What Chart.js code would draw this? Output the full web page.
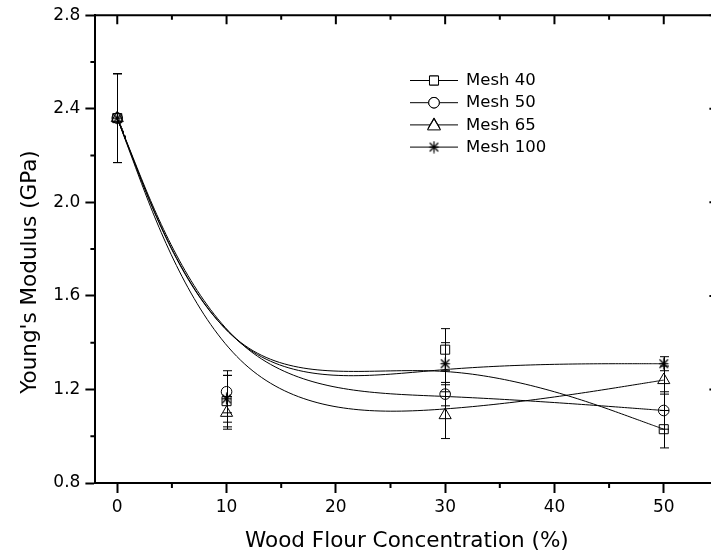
<!DOCTYPE html>
<html>
<head>
<meta charset="utf-8">
<script src="https://cdn.jsdelivr.net/npm/chart.js@4/dist/chart.umd.min.js"></script>
<style>
  body { margin: 0; background: #fff; overflow: hidden; }
  #wrap { width: 711px; height: 556px; overflow: hidden; }
</style>
</head>
<body>
<div id="wrap"><canvas id="miGrafico" width="730" height="556"></canvas></div>
<script>
// DATOS
const concentrations = [0, 10, 30, 50];
const mesh40 = [2.36, 1.15, 1.37, 1.03];
const mesh50 = [2.36, 1.19, 1.18, 1.11];
const mesh65 = [2.36, 1.10, 1.09, 1.24];
const mesh100 = [2.36, 1.16, 1.31, 1.31];
const err40 = [0.19, 0.11, 0.09, 0.08];
const err50 = [0.19, 0.09, 0.05, 0.08];
const err65 = [0.19, 0.07, 0.10, 0.06];
const err100 = [0.19, 0.10, 0.09, 0.03];
const seriesNames = ['Mesh 40', 'Mesh 50', 'Mesh 65', 'Mesh 100'];
const xTicks = [0, 10, 20, 30, 40, 50];
const yTicks = [0.8, 1.2, 1.6, 2.0, 2.4, 2.8];

const FONT = 'DejaVu Sans';

// asterisco de 6 brazos para Mesh 100
function asterisk(size) {
  const c = document.createElement('canvas');
  c.width = size; c.height = size;
  const g = c.getContext('2d');
  const r = size / 2 - 0.5;
  g.strokeStyle = '#000';
  g.lineWidth = 1.2;
  g.translate(size / 2, size / 2);
  for (let k = 0; k < 4; k++) {
    const a = k * Math.PI / 4;
    if (k === 2) continue; // sin brazo horizontal
    g.beginPath();
    g.moveTo(-r * Math.sin(a), -r * Math.cos(a));
    g.lineTo(r * Math.sin(a), r * Math.cos(a));
    g.stroke();
  }
  g.beginPath(); g.moveTo(-r * 0.8, 0); g.lineTo(r * 0.8, 0); g.stroke();
  return c;
}
const starImg = asterisk(13);

// curva B-spline (extremos triplicados) a partir de los puntos
function bspline(xs, ys) {
  const q = [];
  const n = xs.length;
  q.push([xs[0], ys[0]], [xs[0], ys[0]]);
  for (let i = 0; i < n; i++) q.push([xs[i], ys[i]]);
  q.push([xs[n - 1], ys[n - 1]], [xs[n - 1], ys[n - 1]]);
  const out = [];
  for (let s = 0; s + 3 < q.length; s++) {
    for (let j = 0; j <= 40; j++) {
      if (s > 0 && j === 0) continue;
      const t = j / 40;
      const b0 = (1 - t) * (1 - t) * (1 - t) / 6;
      const b1 = (3 * t * t * t - 6 * t * t + 4) / 6;
      const b2 = (-3 * t * t * t + 3 * t * t + 3 * t + 1) / 6;
      const b3 = t * t * t / 6;
      out.push({
        x: b0 * q[s][0] + b1 * q[s + 1][0] + b2 * q[s + 2][0] + b3 * q[s + 3][0],
        y: b0 * q[s][1] + b1 * q[s + 1][1] + b2 * q[s + 2][1] + b3 * q[s + 3][1]
      });
    }
  }
  return out;
}

const values = [mesh40, mesh50, mesh65, mesh100];
const errors = [err40, err50, err65, err100];
const styles = [
  { pointStyle: 'rect', radius: 6.4 },
  { pointStyle: 'circle', radius: 5.3 },
  { pointStyle: 'triangle', radius: 7 },
  { pointStyle: starImg, radius: 6.5 }
];

const datasets = [];
values.forEach(function (vals, i) {
  datasets.push({
    label: seriesNames[i] + ' curva',
    data: bspline(concentrations, vals),
    borderColor: '#000',
    borderWidth: 1,
    pointRadius: 0,
    tension: 0,
    showLine: true
  });
});
values.forEach(function (vals, i) {
  datasets.push({
    label: seriesNames[i],
    data: concentrations.map(function (c, k) { return { x: c, y: vals[k] }; }),
    showLine: false,
    pointStyle: styles[i].pointStyle,
    pointRadius: styles[i].radius,
    pointBorderColor: '#000',
    pointBackgroundColor: 'rgba(0,0,0,0)',
    pointBorderWidth: 1,
    errs: errors[i]
  });
});

function minors(list) {
  const m = [];
  for (let i = 0; i < list.length - 1; i++) m.push((list[i] + list[i + 1]) / 2);
  return m;
}

// barras de error, marco, ticks menores, leyenda y título Y
const extras = {
  id: 'extras',
  afterDatasetsDraw(chart) {
    const ctx = chart.ctx;
    const xs = chart.scales.x, ys = chart.scales.y;
    const a = chart.chartArea;
    ctx.save();
    ctx.strokeStyle = '#000';
    ctx.lineWidth = 1;
    chart.data.datasets.forEach(function (ds) {
      if (!ds.errs) return;
      ds.data.forEach(function (p, k) {
        const px = Math.round(xs.getPixelForValue(p.x)) + 0.5;
        const top = ys.getPixelForValue(p.y + ds.errs[k]);
        const bot = ys.getPixelForValue(p.y - ds.errs[k]);
        ctx.beginPath();
        ctx.moveTo(px, top); ctx.lineTo(px, bot);
        ctx.moveTo(px - 4.5, top); ctx.lineTo(px + 4.5, top);
        ctx.moveTo(px - 4.5, bot); ctx.lineTo(px + 4.5, bot);
        ctx.stroke();
      });
    });

    // marco superior y derecho
    ctx.lineWidth = 2;
    ctx.beginPath();
    ctx.moveTo(a.left, a.top); ctx.lineTo(a.right, a.top);
    ctx.lineTo(a.right, a.bottom);
    ctx.stroke();

    // ticks del marco (hacia dentro)
    ctx.beginPath();
    xTicks.forEach(function (v) {
      const px = xs.getPixelForValue(v);
      ctx.moveTo(px, a.top); ctx.lineTo(px, a.top + 9);
    });
    minors(xTicks).concat([55]).forEach(function (v) {
      const px = xs.getPixelForValue(v);
      ctx.moveTo(px, a.top); ctx.lineTo(px, a.top + 4.5);
    });
    yTicks.forEach(function (v) {
      const py = ys.getPixelForValue(v);
      ctx.moveTo(a.right, py); ctx.lineTo(a.right - 9, py);
    });
    // ticks menores (hacia fuera)
    minors(xTicks).forEach(function (v) {
      const px = xs.getPixelForValue(v);
      ctx.moveTo(px, a.bottom); ctx.lineTo(px, a.bottom + 5);
    });
    minors(yTicks).forEach(function (v) {
      const py = ys.getPixelForValue(v);
      ctx.moveTo(a.left, py); ctx.lineTo(a.left - 5, py);
    });
    ctx.stroke();

    // leyenda
    ctx.lineWidth = 1;
    ctx.font = '16.5px "' + FONT + '"';
    ctx.fillStyle = '#000';
    ctx.textBaseline = 'middle';
    ctx.textAlign = 'left';
    seriesNames.forEach(function (name, i) {
      const y = 80 + i * 22.2;
      ctx.beginPath();
      ctx.moveTo(410, y + 0.5); ctx.lineTo(458, y + 0.5);
      ctx.stroke();
      const st = styles[i];
      ctx.save();
      Chart.helpers.drawPoint(ctx, {
        pointStyle: st.pointStyle, radius: st.radius, borderWidth: 1, rotation: 0
      }, 434, y + 0.5);
      ctx.restore();
      if (typeof st.pointStyle === 'string') {
        ctx.fillStyle = '#fff';
        ctx.strokeStyle = '#000';
        ctx.beginPath();
        if (st.pointStyle === 'rect') ctx.rect(434 - 4.5, y - 4, 9, 9);
        if (st.pointStyle === 'circle') ctx.arc(434, y + 0.5, 5.3, 0, Math.PI * 2);
        if (st.pointStyle === 'triangle') {
          ctx.moveTo(434, y - 5.5); ctx.lineTo(440.5, y + 5.5); ctx.lineTo(427.5, y + 5.5); ctx.closePath();
        }
        ctx.fill(); ctx.stroke();
        ctx.fillStyle = '#000';
      }
      ctx.fillText(name, 466, y + 1);
    });

    // título eje Y
    ctx.save();
    ctx.translate(30, 272);
    ctx.rotate(-Math.PI / 2);
    ctx.textAlign = 'center';
    ctx.textBaseline = 'middle';
    ctx.font = '21.5px "' + FONT + '"';
    ctx.fillText("Young's Modulus (GPa)", 0, 0);
    ctx.restore();
    ctx.restore();
  }
};

const ctx = document.getElementById('miGrafico');

new Chart(ctx, {
  type: 'scatter',
  data: { datasets: datasets },
  plugins: [extras],
  options: {
    responsive: false,
    animation: false,
    layout: { padding: { top: 15, right: 11.6, left: 0, bottom: 0 } },
    plugins: {
      legend: { display: false },
      tooltip: { enabled: false }
    },
    scales: {
      x: {
        type: 'linear',
        min: -2,
        max: 55,
        afterBuildTicks: function (s) { s.ticks = xTicks.map(function (v) { return { value: v }; }); },
        afterFit: function (s) { s.height = 73; },
        ticks: {
          color: '#000',
          font: { family: FONT, size: 17 },
          padding: 4,
          maxRotation: 0,
          autoSkip: false,
          callback: function (v) { return String(v); }
        },
        grid: { drawOnChartArea: false, drawTicks: true, tickLength: 10, tickWidth: 2, tickColor: '#000' },
        border: { color: '#000', width: 2 },
        title: {
          display: true,
          text: 'Wood Flour Concentration (%)',
          color: '#000',
          font: { family: FONT, size: 21.5 },
          padding: { top: 0, bottom: 2 }
        }
      },
      y: {
        min: 0.8,
        max: 2.8,
        afterBuildTicks: function (s) { s.ticks = yTicks.map(function (v) { return { value: v }; }); },
        afterFit: function (s) { s.width = 95.4; },
        ticks: {
          color: '#000',
          font: { family: FONT, size: 17 },
          padding: 5,
          autoSkip: false,
          callback: function (v) { return Number(v).toFixed(1); }
        },
        grid: { drawOnChartArea: false, drawTicks: true, tickLength: 10, tickWidth: 2, tickColor: '#000' },
        border: { color: '#000', width: 2 }
      }
    }
  }
});
</script>
</body>
</html>
